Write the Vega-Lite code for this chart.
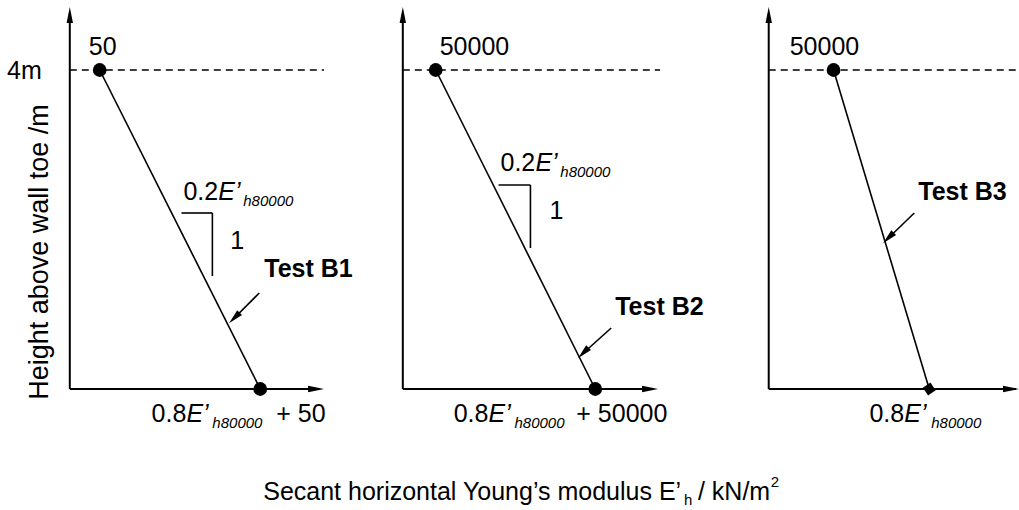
{
  "$schema": "https://vega.github.io/schema/vega-lite/v6.json",
  "width": 1019,
  "height": 510,
  "autosize": {"type": "fit", "contains": "padding"},
  "padding": 0,
  "background": "white",
  "config": {"view": {"stroke": null}},
  "datasets": {
    "axes": [
      {"x": 70, "y": 389, "x2": 70, "y2": 14},
      {"x": 70, "y": 389, "x2": 318, "y2": 389},
      {"x": 404, "y": 389, "x2": 404, "y2": 14},
      {"x": 404, "y": 389, "x2": 652, "y2": 389},
      {"x": 771, "y": 389, "x2": 771, "y2": 14},
      {"x": 771, "y": 389, "x2": 1019, "y2": 389}
    ],
    "lines": [
      {"x": 100, "y": 70, "x2": 261, "y2": 389},
      {"x": 437, "y": 70, "x2": 597, "y2": 389},
      {"x": 836, "y": 70, "x2": 932, "y2": 389},
      {"x": 182, "y": 213, "x2": 213, "y2": 213},
      {"x": 213, "y": 213, "x2": 213, "y2": 276},
      {"x": 500, "y": 185, "x2": 532, "y2": 185},
      {"x": 532, "y": 185, "x2": 532, "y2": 248},
      {"x": 260, "y": 293, "x2": 234, "y2": 319},
      {"x": 613, "y": 328, "x2": 584, "y2": 354},
      {"x": 917, "y": 213, "x2": 890, "y2": 239}
    ],
    "dashes": [
      {"x": 70, "y": 70, "x2": 325, "y2": 70},
      {"x": 404, "y": 70, "x2": 662, "y2": 70},
      {"x": 771, "y": 70, "x2": 1019, "y2": 70}
    ],
    "tipsUp": [
      {"x": 70, "y": 15},
      {"x": 404, "y": 15},
      {"x": 771, "y": 15}
    ],
    "tipsRight": [
      {"x": 317, "y": 389},
      {"x": 652, "y": 389},
      {"x": 1014, "y": 389}
    ],
    "pointerTips": [
      {"x": 235, "y": 318},
      {"x": 585, "y": 353},
      {"x": 891, "y": 238}
    ],
    "dots": [
      {"x": 100, "y": 70},
      {"x": 261, "y": 389},
      {"x": 437, "y": 70},
      {"x": 597, "y": 389},
      {"x": 836, "y": 70}
    ],
    "diamonds": [
      {"x": 932, "y": 389}
    ],
    "labels": [
      {"x": 7, "y": 79, "text": "4m"},
      {"x": 89, "y": 55, "text": "50"},
      {"x": 441, "y": 55, "text": "50000"},
      {"x": 792, "y": 55, "text": "50000"},
      {"x": 184, "y": 200, "text": "0.2"},
      {"x": 502, "y": 171, "text": "0.2"},
      {"x": 231, "y": 249, "text": "1"},
      {"x": 551, "y": 219, "text": "1"},
      {"x": 152, "y": 422, "text": "0.8"},
      {"x": 277, "y": 422, "text": "+ 50"},
      {"x": 455, "y": 422, "text": "0.8"},
      {"x": 578, "y": 422, "text": "+ 50000"},
      {"x": 872, "y": 422, "text": "0.8"}
    ],
    "italics": [
      {"x": 219, "y": 200, "text": "E’"},
      {"x": 537, "y": 171, "text": "E’"},
      {"x": 187, "y": 422, "text": "E’"},
      {"x": 490, "y": 422, "text": "E’"},
      {"x": 907, "y": 422, "text": "E’"}
    ],
    "subs": [
      {"x": 244, "y": 206, "text": "h80000"},
      {"x": 562, "y": 177, "text": "h80000"},
      {"x": 213, "y": 428, "text": "h80000"},
      {"x": 516, "y": 428, "text": "h80000"},
      {"x": 934, "y": 428, "text": "h80000"}
    ],
    "bold": [
      {"x": 265, "y": 277, "text": "Test B1"},
      {"x": 617, "y": 315, "text": "Test B2"},
      {"x": 921, "y": 200, "text": "Test B3"}
    ],
    "titleMain": [
      {"x": 264, "y": 500, "text": "Secant horizontal Young’s modulus E’"},
      {"x": 700, "y": 500, "text": "/ kN/m"}
    ],
    "titleSmall": [
      {"x": 686, "y": 505, "text": "h"},
      {"x": 773, "y": 487, "text": "2"}
    ],
    "yTitle": [
      {"x": 40, "y": 252, "text": "Height above wall toe /m"}
    ]
  },
  "encoding": {
    "x": {"field": "x", "type": "quantitative", "scale": {"domain": [0, 1019], "nice": false, "zero": false}, "axis": null},
    "y": {"field": "y", "type": "quantitative", "scale": {"domain": [0, 510], "nice": false, "zero": false, "reverse": true}, "axis": null}
  },
  "layer": [
    {"data": {"name": "axes"}, "mark": {"type": "rule", "color": "black", "strokeWidth": 2}, "encoding": {"x2": {"field": "x2"}, "y2": {"field": "y2"}}},
    {"data": {"name": "lines"}, "mark": {"type": "rule", "color": "black", "strokeWidth": 1.6}, "encoding": {"x2": {"field": "x2"}, "y2": {"field": "y2"}}},
    {"data": {"name": "dashes"}, "mark": {"type": "rule", "color": "black", "strokeWidth": 1.5, "strokeDash": [7, 5]}, "encoding": {"x2": {"field": "x2"}, "y2": {"field": "y2"}}},
    {"data": {"name": "tipsUp"}, "mark": {"type": "point", "shape": "M0,-1L-0.4,1L0.4,1Z", "size": 256, "filled": true, "color": "black", "opacity": 1, "angle": 0}},
    {"data": {"name": "tipsRight"}, "mark": {"type": "point", "shape": "M0,-1L-0.4,1L0.4,1Z", "size": 256, "filled": true, "color": "black", "opacity": 1, "angle": 90}},
    {"data": {"name": "pointerTips"}, "mark": {"type": "point", "shape": "M0,-1L-0.45,1L0.45,1Z", "size": 225, "filled": true, "color": "black", "opacity": 1, "angle": 225}},
    {"data": {"name": "dots"}, "mark": {"type": "point", "shape": "circle", "size": 190, "filled": true, "color": "black", "opacity": 1}},
    {"data": {"name": "diamonds"}, "mark": {"type": "point", "shape": "diamond", "size": 170, "filled": true, "color": "black", "opacity": 1, "angle": 10}},
    {"data": {"name": "labels"}, "mark": {"type": "text", "font": "Liberation Sans", "fontSize": 25, "align": "left", "baseline": "alphabetic", "color": "black"}, "encoding": {"text": {"field": "text"}}},
    {"data": {"name": "italics"}, "mark": {"type": "text", "font": "Liberation Sans", "fontSize": 25, "fontStyle": "italic", "align": "left", "baseline": "alphabetic", "color": "black"}, "encoding": {"text": {"field": "text"}}},
    {"data": {"name": "subs"}, "mark": {"type": "text", "font": "Liberation Sans", "fontSize": 15, "fontStyle": "italic", "align": "left", "baseline": "alphabetic", "color": "black"}, "encoding": {"text": {"field": "text"}}},
    {"data": {"name": "bold"}, "mark": {"type": "text", "font": "Liberation Sans", "fontSize": 25, "fontWeight": "bold", "align": "left", "baseline": "alphabetic", "color": "black"}, "encoding": {"text": {"field": "text"}}},
    {"data": {"name": "titleMain"}, "mark": {"type": "text", "font": "Liberation Sans", "fontSize": 25, "align": "left", "baseline": "alphabetic", "color": "black"}, "encoding": {"text": {"field": "text"}}},
    {"data": {"name": "titleSmall"}, "mark": {"type": "text", "font": "Liberation Sans", "fontSize": 15, "align": "left", "baseline": "alphabetic", "color": "black"}, "encoding": {"text": {"field": "text"}}},
    {"data": {"name": "yTitle"}, "mark": {"type": "text", "font": "Liberation Sans", "fontSize": 27, "align": "center", "baseline": "middle", "angle": 270, "color": "black"}, "encoding": {"text": {"field": "text"}}}
  ]
}
